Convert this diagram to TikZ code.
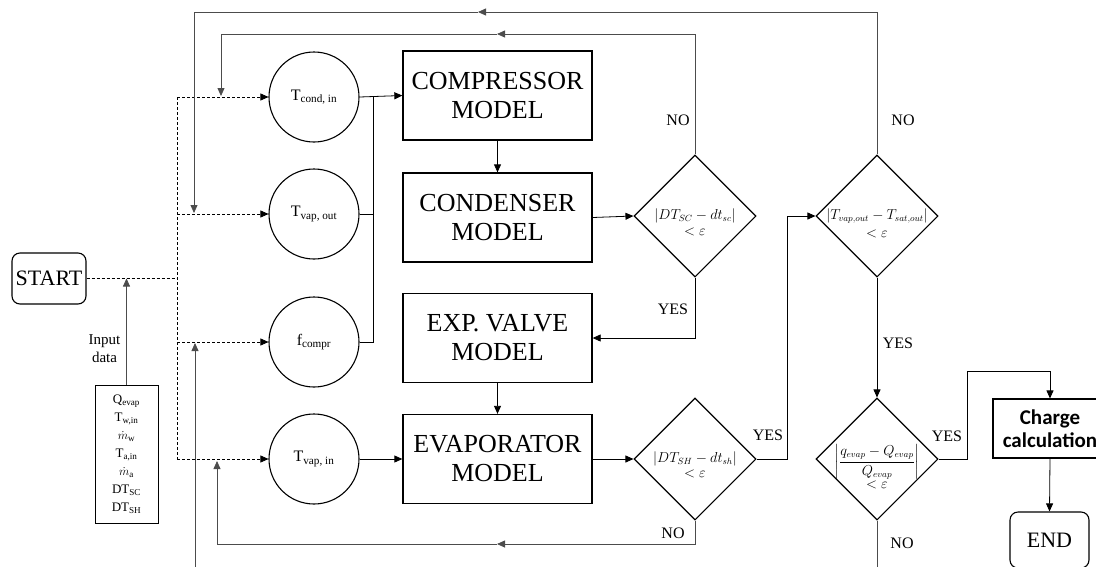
\documentclass[tikz,border=0pt]{standalone}
\usepackage{fontspec}
\usepackage{amsmath}
\setmainfont{Liberation Serif}
\newfontfamily\calfont{Carlito}
\usetikzlibrary{arrows.meta,shapes.geometric}

\tikzset{
  conn/.style={line width=0.8pt, draw=black},
  fbline/.style={line width=0.8pt, draw=black!70},
  arr/.style={-{Triangle[length=8pt,width=7pt]}},
  dash line/.style={line width=0.7pt, dash pattern=on 3pt off 2pt},
  block/.style={draw, line width=1.3pt, rectangle, minimum width=189pt, minimum height=89pt,
    inner sep=0pt, align=center, font=\fontsize{26}{29}\selectfont},
  var/.style={draw, line width=1.1pt, circle, minimum size=90pt, inner sep=0pt,
    font=\fontsize{16}{18}\selectfont},
  test/.style={draw, line width=1.1pt, diamond, aspect=1, minimum width=122pt,
    minimum height=122pt, inner sep=0pt},
  term/.style={draw, line width=1.1pt, rounded corners=8pt, inner sep=0pt,
    font=\fontsize{22}{24}\selectfont},
  tag/.style={font=\fontsize{16}{18}\selectfont, inner sep=0pt},
  cond/.style={font=\fontsize{13.5}{15}\selectfont, inner sep=0pt}
}

\begin{document}
\begin{tikzpicture}[x=1pt,y=-1pt]
\useasboundingbox (0,0) rectangle (1096,566);

% start / end terminals
\node[term, minimum width=74pt, minimum height=51pt] (start) at (49,278.5) {START};
\node[term, minimum width=79pt, minimum height=56pt] (end) at (1049.5,540) {END};

% input data
\node[draw, line width=1pt, minimum width=63pt, minimum height=138pt, inner sep=0pt,
  align=center, font=\fontsize{13}{18}\selectfont] (inp) at (126.5,454)
  {Q\textsubscript{evap}\\T\textsubscript{w,in}\\$\dot m$\textsubscript{w}\\T\textsubscript{a,in}\\$\dot m$\textsubscript{a}\\DT\textsubscript{SC}\\DT\textsubscript{SH}};
\node[align=center, inner sep=0pt, font=\fontsize{15}{18}\selectfont] (inlab) at (104.5,349) {Input\\data};

% guessed variables
\node[var] (ci1) at (314,97) {T\textsubscript{cond, in}};
\node[var] (ci2) at (314,214) {T\textsubscript{vap, out}};
\node[var] (ci3) at (314,342) {f\textsubscript{compr}};
\node[var] (ci4) at (314,459) {T\textsubscript{vap, in}};

% component models
\node[block] (comp) at (497.5,95.5) {COMPRESSOR\\MODEL};
\node[block] (cond) at (497.5,217.5) {CONDENSER\\MODEL};
\node[block] (expv) at (497.5,338) {EXP. VALVE\\MODEL};
\node[block] (evap) at (497.5,459) {EVAPORATOR\\MODEL};

% convergence tests: condition on the first line, tolerance below
\node[test,
  label={[cond]center:$|DT_{SC}-dt_{sc}|$},
  label={[cond, yshift=-16pt]center:$<\varepsilon$}] (d1) at (695,216) {};
\node[test,
  label={[cond]center:$|DT_{SH}-dt_{sh}|$},
  label={[cond, yshift=-15pt]center:$<\varepsilon$}] (d2) at (695,459) {};
\node[test,
  label={[cond]center:$\left|T_{vap,out}-T_{sat,out}\right|$},
  label={[cond, yshift=-18pt]center:$<\varepsilon$}] (d3) at (877,216) {};
\node[test,
  label={[cond, yshift=-3pt]center:$\left|\dfrac{q_{evap}-Q_{evap}}{Q_{evap}}\right|$},
  label={[cond, yshift=-26pt]center:$<\varepsilon$}] (d4) at (877,459) {};

% charge calculation
\node[draw, line width=1.1pt, minimum width=114pt, minimum height=59pt, inner sep=0pt,
  align=center, font=\calfont\bfseries\fontsize{21}{23}\selectfont] (charge) at (1050,428.5) {Charge\\calculation};

% routing points
\coordinate (sj) at (177,278.5);
\coordinate (c1) at (177,97);
\coordinate (c4) at (177,459);
\coordinate (jn) at (373,97);
\coordinate (m0) at (478,12);
\coordinate (m1) at (497,34);
\coordinate (m2) at (497,544);
\coordinate (fb0) at (194,213);
\coordinate (fb1) at (221,96);
\coordinate (fb2) at (217,461);
\coordinate (fb3) at (195,343);
\coordinate (k2) at (787,216);
\coordinate (k4) at (967,371);
\coordinate (low) at (536,595);

% initial guesses (dashed)
\draw[dash line] (start.east) -- (sj);
\draw[dash line] (c1) -- (c4);
\draw[dash line, arr] (c1) -- (ci1.west);
\draw[dash line, arr] (c1 |- ci2) -- (ci2.west);
\draw[dash line, arr] (c1 |- ci3) -- (ci3.west);
\draw[dash line, arr] (c4) -- (ci4.west);

% input data arrow
\draw[fbline, arr] (inp.north) -- (inp.north |- sj);

% main flow
\draw[conn, arr] (ci1.east) -- (comp.west);
\draw[conn] (ci2.east) -| (jn);
\draw[conn] (ci3.east) -| (jn);
\draw[conn, arr] (comp.south) -- (cond.north);
\draw[conn, arr] (expv.south) -- (evap.north);
\draw[conn, arr] (ci4.east) -- (evap.west);
\draw[conn, arr] (cond.east) -- (d1.west);
\draw[conn, arr] (d1.south) |- (expv.east);
\draw[conn, arr] (evap.east) -- (d2.west);
\draw[conn, arr] (d2.east) -| (k2) -- (d3.west);
\draw[conn, arr] (d3.south) -- (d4.north);
\draw[conn, arr] (d4.east) -| (k4) -| (charge.north);
\draw[conn, arr] (charge.south) -- (end.north);

% feedback loops
\draw[fbline, arr] (d1.north) |- (m1);
\draw[fbline, arr] (m1) -| (fb1);
\draw[fbline, arr] (d3.north) |- (m0);
\draw[fbline, arr] (m0) -| (fb0);
\draw[fbline, arr] (d2.south) |- (m2);
\draw[fbline, arr] (m2) -| (fb2);
\draw[fbline, arr] (d4.south) |- (low) -| (fb3);

% branch labels
\node[tag] at (678,120) {NO};
\node[tag] at (673,309) {YES};
\node[tag] at (903,120) {NO};
\node[tag] at (898,343) {YES};
\node[tag] at (768,435) {YES};
\node[tag] at (673,533) {NO};
\node[tag] at (947,436) {YES};
\node[tag] at (902,543) {NO};
\end{tikzpicture}
\end{document}
